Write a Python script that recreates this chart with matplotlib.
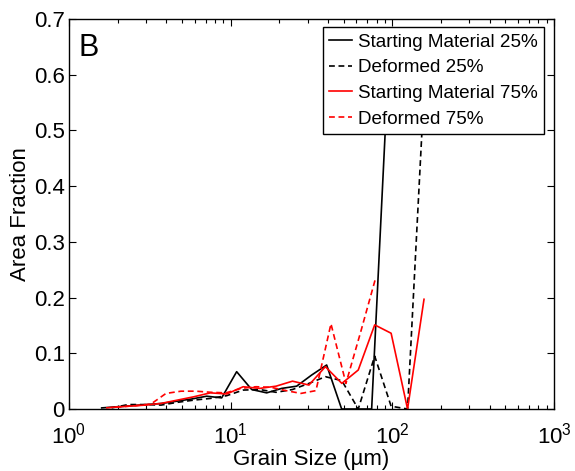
import matplotlib
matplotlib.use('Agg')
import matplotlib.pyplot as plt
from matplotlib.ticker import LogLocator, NullFormatter, FixedLocator

plt.rcParams['font.family'] = ['Liberation Sans', 'DejaVu Sans']
plt.rcParams['mathtext.fontset'] = 'custom'
plt.rcParams['mathtext.rm'] = 'Liberation Sans'
plt.rcParams['mathtext.it'] = 'Liberation Sans:italic'

# grain size bins (um)
size_sm25 = [1.593, 1.972, 2.443, 3.024, 3.744, 4.634, 5.739, 7.105, 8.797, 10.89,
             13.49, 16.70, 20.67, 25.59, 31.69, 39.24, 48.58, 60.15, 74.47, 92.20]
size_a = [1.837, 2.322, 2.934, 3.708, 4.686, 5.922, 7.484, 9.459, 11.95, 15.11,
          19.09, 24.13, 30.49, 38.54, 48.70, 61.54, 77.78, 98.28, 124.2, 157.0]
size_d75 = [1.694, 2.097, 2.597, 3.215, 3.981, 4.928, 6.101, 7.554, 9.352, 11.58,
            14.34, 17.75, 21.98, 27.21, 33.69, 41.72, 51.64, 63.94, 79.16]

# area fractions
sm25 = [0.002, 0.004, 0.006, 0.008, 0.010, 0.014, 0.018, 0.023, 0.020, 0.067,
        0.035, 0.029, 0.037, 0.041, 0.061, 0.079, 0.0, 0.0, 0.0, 0.55]
def25 = [0.002, 0.008, 0.008, 0.007, 0.012, 0.016, 0.019, 0.024, 0.034, 0.035,
         0.030, 0.035, 0.046, 0.058, 0.051, 0.0, 0.095, 0.005, 0.0, 0.57]
sm75 = [0.003, 0.005, 0.007, 0.010, 0.016, 0.022, 0.029, 0.027, 0.040, 0.037,
        0.041, 0.050, 0.043, 0.076, 0.046, 0.070, 0.151, 0.136, 0.0, 0.197]
def75 = [0.002, 0.004, 0.006, 0.009, 0.028, 0.032, 0.032, 0.030, 0.029, 0.037,
         0.040, 0.039, 0.033, 0.028, 0.033, 0.153, 0.046, 0.14, 0.237]

fig = plt.figure(figsize=(5.75, 4.71), dpi=100)
ax = fig.add_axes([0.12, 0.1316, 0.8435, 0.828])

dash = (3.5, 2.2)
lw = 1.2
ax.semilogx(size_sm25, sm25, color='k', lw=lw, label='Starting Material 25%')
ax.semilogx(size_a, def25, color='k', lw=lw, ls='--', dashes=dash, label='Deformed 25%')
ax.semilogx(size_a, sm75, color='#ff0000', lw=lw, label='Starting Material 75%')
ax.semilogx(size_d75, def75, color='#ff0000', lw=lw, ls='--', dashes=dash, label='Deformed 75%')

ax.set_xlim(1, 1000)
ax.set_ylim(0, 0.7)
ax.xaxis.set_major_locator(FixedLocator([1, 10, 100, 1000]))
ax.set_xticklabels(['$10^{0}$', '$10^{1}$', '$10^{2}$', '$10^{3}$'])
ax.xaxis.set_minor_locator(LogLocator(base=10, subs=range(2, 10)))
ax.xaxis.set_minor_formatter(NullFormatter())
ax.set_yticks([0, 0.1, 0.2, 0.3, 0.4, 0.5, 0.6, 0.7])
ax.set_yticklabels(['0', '0.1', '0.2', '0.3', '0.4', '0.5', '0.6', '0.7'])

ax.tick_params(which='both', direction='in', top=True, right=True, labelsize=16, width=0.8)
ax.tick_params(which='major', length=5)
ax.tick_params(which='minor', length=3)
ax.tick_params(axis='x', which='major', pad=10)
ax.tick_params(axis='y', which='major', pad=3)
for s in ax.spines.values():
    s.set_linewidth(1.0)

ax.set_xlabel('Grain Size (\u00b5m)', fontsize=16, labelpad=0)
ax.set_ylabel('Area Fraction', fontsize=16, labelpad=2)

ax.text(0.02, 0.965, 'B', transform=ax.transAxes, fontsize=22, va='top', ha='left')

leg = ax.legend(loc='upper right', bbox_to_anchor=(0.98, 0.98), borderaxespad=0,
                fontsize=13.6, fancybox=False, framealpha=1, edgecolor='k',
                handlelength=1.22, handletextpad=0.3, labelspacing=0.45,
                borderpad=0.35)
leg.get_frame().set_linewidth(1.0)

fig.savefig('out.png', dpi=100)
